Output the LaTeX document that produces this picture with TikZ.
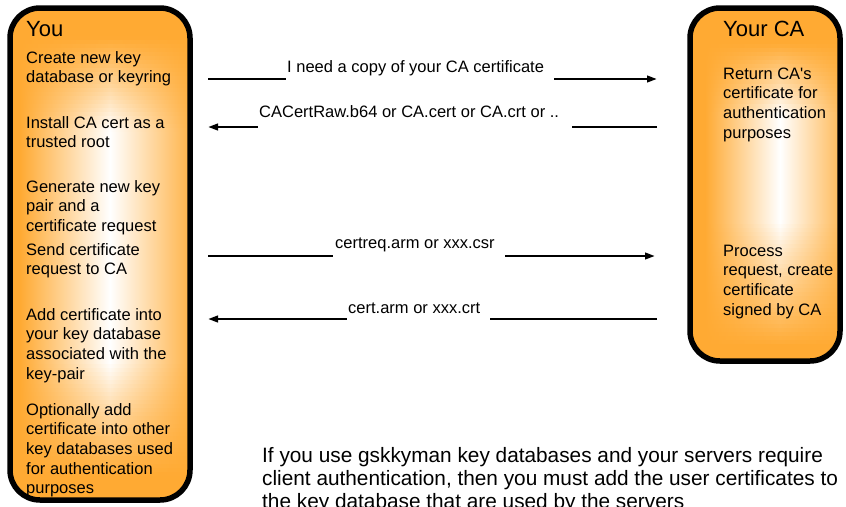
\documentclass[tikz,border=0pt]{standalone}
\usepackage{fontspec}
\setmainfont{Liberation Sans}
\usetikzlibrary{arrows.meta}
\definecolor{boxorange}{RGB}{255,170,51}
% stacked lines whose reference point is the first line's baseline
\newcommand{\stacklines}[1]{\begin{tabular}[t]{@{}l@{}}#1\end{tabular}}
\begin{document}
\begin{tikzpicture}[x=1pt,y=-1pt,
  body/.style={font=\fontsize{16.5}{19.7}\selectfont, anchor=base west, inner sep=0pt},
  title/.style={font=\fontsize{22}{26}\selectfont, anchor=base west, inner sep=0pt},
  msg/.style={-{Triangle[length=10pt,width=6.5pt]}, line width=2.4pt},
  msglabel/.style={font=\fontsize{16.5}{19.7}\selectfont, anchor=base west, fill=white,
                   inner sep=0pt, text depth=12pt},
  frame/.style={line width=5.5pt, rounded corners=30pt}]

\useasboundingbox (0,0) rectangle (846,506);
\clip (0,0) rectangle (846,506);

% ---- party boxes: orange body with a soft white glow in the middle ----
\coordinate (youtl) at (10,8);
\coordinate (youbr) at (190,500);
\coordinate (catl) at (690,8);
\coordinate (cabr) at (840,361);

\fill[boxorange, rounded corners=30pt] (youtl) rectangle (youbr);
\begin{scope}
  \clip[rounded corners=30pt] (youtl) rectangle (youbr);
  \foreach \i in {0,...,122} {
    \pgfmathsetmacro{\t}{(\i+0.5)/123}
    \pgfmathsetmacro{\p}{100*max(0,min(1,max((0.25-\t)/0.19,(\t-0.72)/0.23)))}
    \shade[left color=boxorange, right color=boxorange, middle color=boxorange!\p!white]
      (20,8+\i*4) rectangle (200,12.6+\i*4);
  }
\end{scope}
\draw[frame] (youtl) rectangle (youbr);

\fill[boxorange, rounded corners=30pt] (catl) rectangle (cabr);
\begin{scope}
  \clip[rounded corners=30pt] (catl) rectangle (cabr);
  \foreach \i in {0,...,88} {
    \pgfmathsetmacro{\t}{(\i+0.5)/89}
    \pgfmathsetmacro{\p}{100*max(0,min(1,max((0.30-\t)/0.20,(\t-0.60)/0.35)))}
    \shade[left color=boxorange, right color=boxorange, middle color=boxorange!\p!white]
      (705,8+\i*4) rectangle (855,12.6+\i*4);
  }
\end{scope}
\draw[frame] (catl) rectangle (cabr);

% ---- texts in the left box ----
\node[title] (you) at (26,36) {You};
\node[body] (s1) at (26,63) {\stacklines{Create new key\\database or keyring}};
\node[body] (s2) at (26,128) {\stacklines{Install CA cert as a\\trusted root}};
\node[body] (s3) at (26,192) {\stacklines{Generate new key\\pair and a\\certificate request}};
\node[body] (s4) at (26,255) {\stacklines{Send certificate\\request to CA}};
\node[body] (s5) at (26,320) {\stacklines{Add certificate into\\your key database\\associated with the\\key-pair}};
\node[body] (s6) at (26,415) {\stacklines{Optionally add\\certificate into other\\key databases used\\for authentication\\purposes}};

% ---- texts in the right box ----
\node[title] (ca) at (723,36) {Your CA};
\node[body] (c1) at (723,79) {\stacklines{Return CA\textquotesingle s\\certificate for\\authentication\\purposes}};
\node[body] (c2) at (723,256) {\stacklines{Process\\request, create\\certificate\\signed by CA}};

% ---- messages ----
\coordinate (m1a) at (208,79);  \coordinate (m1b) at (657,79);
\coordinate (m2a) at (657,127); \coordinate (m2b) at (208,127);
\coordinate (m3a) at (208,256); \coordinate (m3b) at (655,256);
\coordinate (m4a) at (657,319); \coordinate (m4b) at (208,319);

\draw[msg] (m1a) -- (m1b);
\draw[msg] (m2a) -- (m2b);
\draw[msg] (m3a) -- (m3b);
\draw[msg] (m4a) -- (m4b);

\node[msglabel] (l1) at (286,72) {\hspace*{1pt}I need a copy of your CA certificate\hspace*{10pt}};
\node[msglabel] (l2) at (258,117) {\hspace*{1pt}CACertRaw.b64 or CA.cert or CA.crt or ..\hspace*{13pt}};
\node[msglabel] (l3) at (333,248) {\hspace*{2pt}certreq.arm or xxx.csr\hspace*{10pt}};
\node[msglabel] (l4) at (347,313) {\hspace*{1pt}cert.arm or xxx.crt\hspace*{10pt}};

% ---- note ----
\node[font=\fontsize{20.8}{23}\selectfont, anchor=base west, inner sep=0pt] (note) at (262,462)
  {\stacklines{If you use gskkyman key databases and your servers require\\
   client authentication, then you must add the user certificates to\\
   the key database that are used by the servers}};
\end{tikzpicture}
\end{document}
